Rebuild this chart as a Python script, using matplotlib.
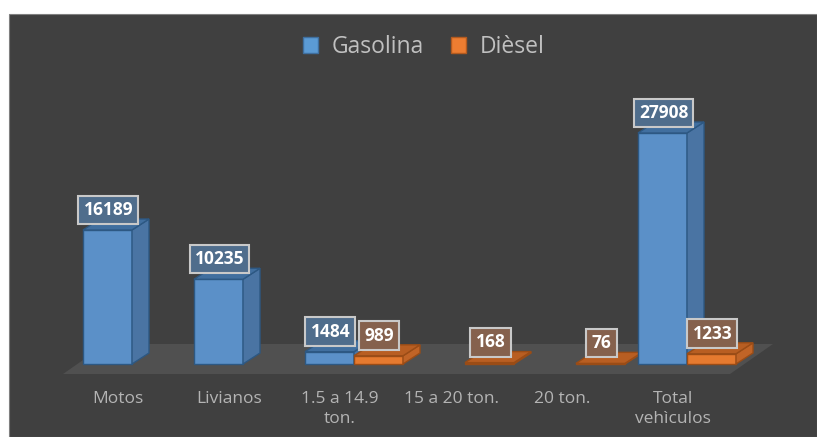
import matplotlib
matplotlib.use("Agg")
import matplotlib.pyplot as plt
from matplotlib.patches import Polygon, Rectangle, Patch

categories = ["Motos", "Livianos", "1.5 a 14.9\nton.", "15 a 20 ton.", "20 ton.", "Total\nvehìculos"]
gasolina = [16189, 10235, 1484, None, None, 27908]
diesel = [None, None, 989, 168, 76, 1233]
series_names = ["Gasolina", "Dièsel"]

plt.rcParams['font.family'] = ['Open Sans', 'DejaVu Sans']

W, H = 817, 437
BG = "#404040"
fig = plt.figure(figsize=(W / 100, H / 100), dpi=100, facecolor="white")
fig.patches.append(Rectangle((9 / W, 0), (W - 9.5) / W, (H - 14) / H, transform=fig.transFigure,
                             facecolor=BG, edgecolor="#808080", lw=0.8, zorder=-10))
ax = fig.add_axes([0, 0, 1, 1])
ax.set_zorder(5)
ax.set_axis_off()

# layout (pixels)
px_cat = 111.0            # pixels per category step
px_val = 231.0 / 27908.0  # pixels per unit value
g0 = 132.0                # pixel x of first group centre
base = 364.0              # pixel y (from top) of bar bases
ax.set_xlim(-g0 / px_cat, (W - g0) / px_cat)
ax.set_ylim(-(H - base) / px_val, base / px_val)

bw = 49 / px_cat
ddx = 17 / px_cat
ddy = 11 / px_val

# floor
fx0, fx1 = (63 - g0) / px_cat, (730 - g0) / px_cat
fy0 = -10 / px_val
fdx, fdy = 43 / px_cat, 30 / px_val
ax.add_patch(Polygon([(fx0, fy0), (fx1, fy0), (fx1 + fdx, fy0 + fdy), (fx0 + fdx, fy0 + fdy)],
                     closed=True, facecolor="#505050", edgecolor="none", zorder=1))

styles = {
    "Gasolina": dict(front="#5b90c8", side="#4a74a3", top="#416f9f", edge="#2d5883",
                     box="#4f6d8c", legend="#5b9bd5", ledge="#3f6f9f"),
    "Dièsel": dict(front="#e57a2f", side="#c06427", top="#b85e22", edge="#9a4c16",
                   box="#85614d", legend="#ed7d31", ledge="#b35a1f"),
}


def draw_bar(x0, v, st, z):
    ax.bar([x0], [v], width=bw, align="edge", color=st["front"], edgecolor=st["edge"],
           linewidth=1.0, zorder=z)
    ax.add_patch(Polygon([(x0 + bw, 0), (x0 + bw + ddx, ddy), (x0 + bw + ddx, v + ddy), (x0 + bw, v)],
                         closed=True, facecolor=st["side"], edgecolor=st["edge"], lw=1.0, zorder=z))
    ax.add_patch(Polygon([(x0, v), (x0 + ddx, v + ddy), (x0 + bw + ddx, v + ddy), (x0 + bw, v)],
                         closed=True, facecolor=st["top"], edgecolor=st["edge"], lw=1.0, zorder=z))


for i in range(len(categories)):
    for k, (name, vals) in enumerate(zip(series_names, [gasolina, diesel])):
        v = vals[i]
        if v is None:
            continue
        x0 = i - bw + k * bw
        draw_bar(x0, v, styles[name], 2 + i * 2 + k)

# labels
for i in range(len(categories)):
    for k, (name, vals) in enumerate(zip(series_names, [gasolina, diesel])):
        v = vals[i]
        if v is None:
            continue
        x0 = i - bw + k * bw
        ax.annotate(str(v), (x0 + bw / 2, v), xytext=(0.7, 14.5), textcoords="offset points",
                    ha="center", va="center", color="white", fontsize=12.5, fontweight="bold",
                    zorder=30,
                    bbox=dict(boxstyle="square,pad=0.3", facecolor=styles[name]["box"],
                              edgecolor="#c9c9c9", linewidth=1.5))

# category labels
for i, c in enumerate(categories):
    ax.annotate(c, (i, 0), xytext=(-10, -19.5), textcoords="offset points",
                ha="center", va="top", color="#b4b4b4", fontsize=12.5, linespacing=1.3)

handles = [Patch(facecolor=styles[n]["legend"], edgecolor=styles[n]["ledge"], label=n)
           for n in series_names]
fig.legend(handles=handles, loc="center", bbox_to_anchor=(0.519, 1 - 47 / H), ncol=2,
           frameon=False, fontsize=16.5, labelcolor="#c0c0c0", handlelength=0.65,
           handleheight=0.65, handletextpad=0.6, columnspacing=1.2)

fig.savefig("out.png", dpi=100, facecolor="white")
